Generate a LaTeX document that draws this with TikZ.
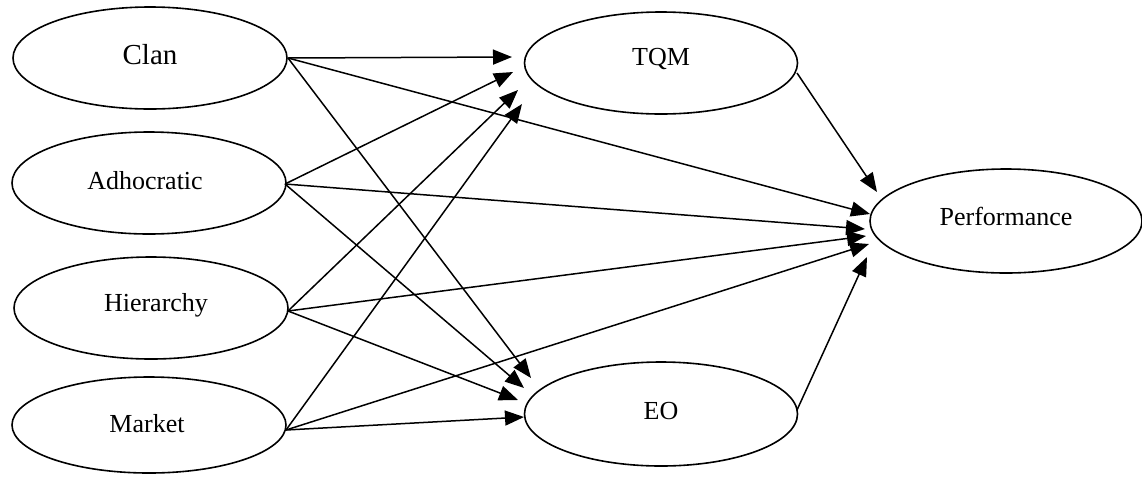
\documentclass[tikz,border=0pt]{standalone}
\usepackage{fontspec}
\setmainfont{Liberation Serif}
\usetikzlibrary{arrows.meta,shapes.geometric}
\begin{document}
\begin{tikzpicture}[x=1pt,y=-1pt,
  oval/.style={draw,line width=1.6pt,ellipse,inner sep=0pt,minimum width=274pt,minimum height=102pt},
  lbl/.style={inner sep=0pt,font=\fontsize{26}{30}\selectfont},
  link/.style={line width=1.5pt,-{Triangle[length=19pt,width=15pt]}}]
\useasboundingbox (0,0) rectangle (1142,483);
% ellipses
\node[oval] (clan) at (150,58) {};
\node[oval] (adho) at (149,183) {};
\node[oval] (hier) at (151,308) {};
\node[oval,minimum height=96pt] (mark) at (149,425) {};
\node[oval,minimum width=273pt] (tqm) at (661,63) {};
\node[oval,minimum width=273pt,minimum height=104pt] (eo) at (661,414) {};
\node[oval,minimum width=272pt,minimum height=104pt] (perf) at (1006,221) {};
% labels
\node[lbl,font=\fontsize{29}{32}\selectfont] (tclan) at (150,55) {Clan};
\node[lbl] (tadho) at (145,181) {Adhocratic};
\node[lbl] (thier) at (156,305) {Hierarchy};
\node[lbl] (tmark) at (147,424) {Market};
\node[lbl] (ttqm) at (661,59) {TQM};
\node[lbl] (teo) at (661,411) {EO};
\node[lbl] (tperf) at (1006,216) {Performance};
% start points
\coordinate (sclan) at (288,58);
\coordinate (sadho) at (285,184);
\coordinate (shier) at (288,311);
\coordinate (smark) at (286,430);
\coordinate (stqm) at (797,73);
\coordinate (seo) at (797,410);
% tips at TQM
\coordinate (q1) at (512,57);
\coordinate (q2) at (513,72);
\coordinate (q3) at (518,90);
\coordinate (q4) at (522,104);
% tips at EO
\coordinate (e1) at (531,378);
\coordinate (e2) at (524,388);
\coordinate (e3) at (518,400);
\coordinate (e4) at (524,417);
% tips at Performance
\coordinate (p1) at (870,214);
\coordinate (p2) at (865,229);
\coordinate (p3) at (866,236);
\coordinate (p4) at (869,244);
\coordinate (p5) at (877,192);
\coordinate (p6) at (867,257);
% connectors
\draw[link] (sclan) -- (q1);
\draw[link] (sclan) -- (p1);
\draw[link] (sclan) -- (e1);
\draw[link] (sadho) -- (q2);
\draw[link] (sadho) -- (p2);
\draw[link] (sadho) -- (e2);
\draw[link] (shier) -- (q3);
\draw[link] (shier) -- (p3);
\draw[link] (shier) -- (e3);
\draw[link] (smark) -- (q4);
\draw[link] (smark) -- (p4);
\draw[link] (smark) -- (e4);
\draw[link] (stqm) -- (p5);
\draw[link] (seo) -- (p6);
\end{tikzpicture}
\end{document}
